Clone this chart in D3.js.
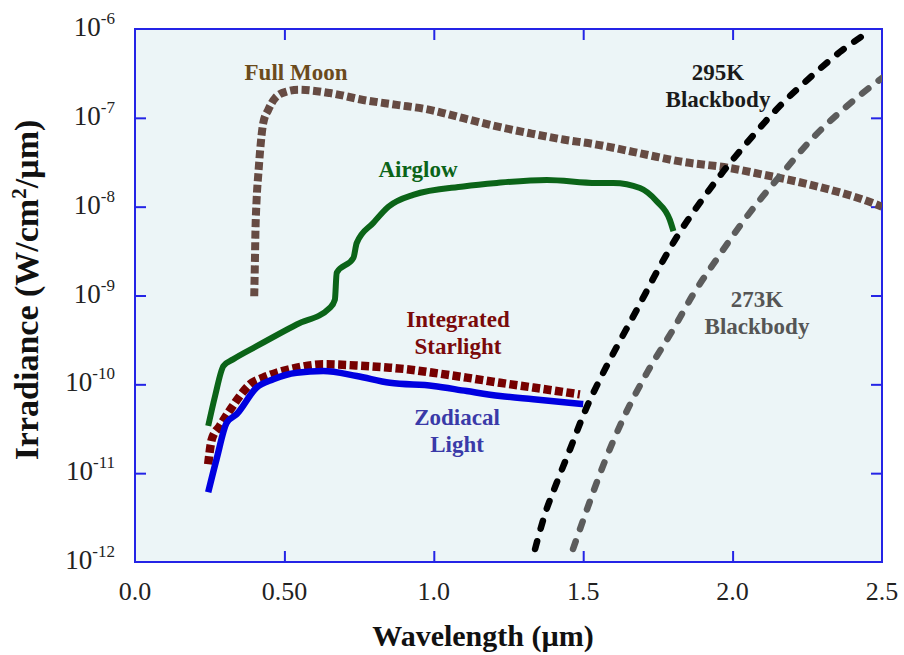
<!DOCTYPE html>
<html>
<head>
<meta charset="utf-8">
<script src="https://cdn.jsdelivr.net/npm/d3@7"></script>
<style>
  body { margin: 0; background: #fff; }
  svg { display: block; font-family: "Liberation Serif", "Times New Roman", serif; }
</style>
</head>
<body>
<svg width="904" height="655"></svg>
<script>
// wavelength (um) / irradiance (W/cm^2/um)
const moonWl  = [0.399, 0.401, 0.403, 0.407, 0.413, 0.418, 0.429, 0.446, 0.469, 0.508, 0.547, 0.653, 0.764, 0.876, 0.987, 1.099, 1.211, 1.322, 1.433, 1.545, 1.601, 1.713, 1.824, 1.991, 2.103, 2.214, 2.326, 2.437, 2.5];
const moonIrr = [9.8e-10, 2.1e-9, 5.1e-9, 1.2e-8, 2.4e-8, 4.0e-8, 8.7e-8, 1.23e-7, 1.67e-7, 1.98e-7, 2.07e-7, 1.9e-7, 1.59e-7, 1.4e-7, 1.23e-7, 9.9e-8, 8.0e-8, 6.7e-8, 5.7e-8, 5.0e-8, 4.6e-8, 3.84e-8, 3.23e-8, 2.72e-8, 2.29e-8, 1.92e-8, 1.55e-8, 1.2e-8, 1.0e-8];

const airglowWl  = [0.245, 0.268, 0.296, 0.328, 0.407, 0.541, 0.653, 0.669, 0.675, 0.731, 0.742, 0.798, 0.848, 0.931, 1.099, 1.211, 1.378, 1.545, 1.601, 1.690, 1.746, 1.790, 1.802];
const airglowIrr = [3.4e-11, 7.4e-11, 1.61e-10, 1.91e-10, 2.69e-10, 4.72e-10, 7.3e-10, 9.0e-10, 1.8e-9, 2.65e-9, 3.9e-9, 6.6e-9, 1.0e-8, 1.36e-8, 1.69e-8, 1.85e-8, 2.0e-8, 1.85e-8, 1.85e-8, 1.62e-8, 1.15e-8, 7.1e-9, 5.3e-9];

const starWl  = [0.245, 0.257, 0.284, 0.324, 0.351, 0.385, 0.429, 0.474, 0.541, 0.630, 0.742, 0.853, 0.909, 0.998, 1.110, 1.222, 1.333, 1.489];
const starIrr = [1.26e-11, 2.4e-11, 3.4e-11, 5.5e-11, 7.4e-11, 1.0e-10, 1.19e-10, 1.35e-10, 1.54e-10, 1.68e-10, 1.63e-10, 1.54e-10, 1.48e-10, 1.35e-10, 1.19e-10, 1.04e-10, 9.2e-11, 7.7e-11];

const zodiWl  = [0.245, 0.273, 0.307, 0.340, 0.407, 0.463, 0.541, 0.630, 0.742, 0.853, 0.998, 1.110, 1.222, 1.333, 1.500];
const zodiIrr = [6.1e-12, 1.44e-11, 3.7e-11, 4.6e-11, 9.2e-11, 1.14e-10, 1.35e-10, 1.41e-10, 1.24e-10, 1.04e-10, 9.6e-11, 8.4e-11, 7.4e-11, 6.8e-11, 6.0e-11];

const bb295Wl  = [1.339, 1.372, 1.412, 1.456, 1.506, 1.556, 1.613, 1.680, 1.747, 1.814, 1.891, 1.968, 2.048, 2.158, 2.269, 2.359, 2.433];
const bb295Irr = [1.4e-12, 3.46e-12, 7.9e-12, 1.86e-11, 4.98e-11, 1.14e-10, 2.67e-10, 6.97e-10, 1.86e-9, 4.6e-9, 1.11e-8, 2.47e-8, 5.24e-8, 1.36e-7, 3.04e-7, 5.5e-7, 8.3e-7];

const bb273Wl  = [1.466, 1.513, 1.566, 1.633, 1.714, 1.801, 1.868, 1.948, 2.035, 2.092, 2.159, 2.269, 2.383, 2.5];
const bb273Irr = [1.4e-12, 3.94e-12, 1.2e-11, 4.05e-11, 1.36e-10, 4.15e-10, 1.03e-9, 2.6e-9, 6.8e-9, 1.2e-8, 2.23e-8, 5.96e-8, 1.36e-7, 2.81e-7];

const xTicks = [0, 0.5, 1.0, 1.5, 2.0, 2.5];
const xTickLabels = ['0.0', '0.50', '1.0', '1.5', '2.0', '2.5'];
const yTicks = [1e-12, 1e-11, 1e-10, 1e-9, 1e-8, 1e-7, 1e-6];
const yTickExps = ['-12', '-11', '-10', '-9', '-8', '-7', '-6'];

const plotL = 135, plotR = 882, plotT = 29, plotB = 562;
const blue = '#2424e6';

const svg = d3.select('svg');
const x = d3.scaleLinear().domain([0, 2.5]).range([plotL, plotR]);
const y = d3.scaleLog().domain([1e-12, 1e-6]).range([plotB, plotT]);

svg.append('defs').append('clipPath').attr('id', 'plot')
  .append('rect').attr('x', plotL).attr('y', plotT)
  .attr('width', plotR - plotL).attr('height', plotB - plotT);

svg.append('rect')
  .attr('x', plotL).attr('y', plotT)
  .attr('width', plotR - plotL).attr('height', plotB - plotT)
  .attr('fill', '#ecf5f7');

// inward ticks on all four sides
const axisStyle = g => {
  g.select('.domain').remove();
  g.selectAll('line').attr('stroke', blue).attr('stroke-width', 2);
  g.selectAll('text').remove();
};
svg.append('g').attr('transform', `translate(0,${plotB})`)
  .call(d3.axisBottom(x).tickValues(xTicks.slice(1, -1)).tickSize(-11)).call(axisStyle);
svg.append('g').attr('transform', `translate(0,${plotT})`)
  .call(d3.axisTop(x).tickValues(xTicks.slice(1, -1)).tickSize(-11)).call(axisStyle);
svg.append('g').attr('transform', `translate(${plotL},0)`)
  .call(d3.axisLeft(y).tickValues(yTicks.slice(1, -1)).tickSize(-11)).call(axisStyle);
svg.append('g').attr('transform', `translate(${plotR},0)`)
  .call(d3.axisRight(y).tickValues(yTicks.slice(1, -1)).tickSize(-11)).call(axisStyle);

svg.append('rect')
  .attr('x', plotL).attr('y', plotT)
  .attr('width', plotR - plotL).attr('height', plotB - plotT)
  .attr('fill', 'none').attr('stroke', blue).attr('stroke-width', 2);

// tick labels
svg.append('g').selectAll('text')
  .data(xTicks)
  .join('text')
  .attr('x', d => x(d))
  .attr('y', 600)
  .attr('text-anchor', 'middle')
  .attr('font-size', 26)
  .attr('fill', '#222')
  .text((d, i) => xTickLabels[i]);

const yl = svg.append('g').selectAll('text')
  .data(yTicks)
  .join('text')
  .attr('x', 115)
  .attr('y', d => y(d) + 7)
  .attr('text-anchor', 'end')
  .attr('font-size', 27)
  .attr('fill', '#222');
yl.append('tspan').text('10');
yl.append('tspan').attr('dy', -12).attr('font-size', 17).text((d, i) => yTickExps[i]);

// axis titles
svg.append('text')
  .attr('x', 483).attr('y', 646)
  .attr('text-anchor', 'middle')
  .attr('font-size', 30).attr('font-weight', 'bold').attr('fill', '#111')
  .text('Wavelength (µm)');

const yt = svg.append('text')
  .attr('transform', 'translate(38,290) rotate(-90)')
  .attr('text-anchor', 'middle')
  .attr('font-size', 34).attr('font-weight', 'bold').attr('fill', '#111');
yt.append('tspan').text('Irradiance (W/cm');
yt.append('tspan').attr('dy', -12).attr('font-size', 21).text('2');
yt.append('tspan').attr('dy', 12).text('/µm)');

// curves
const line = d3.line()
  .x(d => x(d[0]))
  .y(d => y(d[1]))
  .curve(d3.curveMonotoneX);

const series = [
  { wl: moonWl, irr: moonIrr, color: '#664b43', width: 8, dash: '8,3.5', cap: 'butt' },
  { wl: airglowWl, irr: airglowIrr, color: '#0b6418', width: 6, dash: null, cap: 'butt' },
  { wl: starWl, irr: starIrr, color: '#760000', width: 8.5, dash: '8,3.5', cap: 'butt' },
  { wl: zodiWl, irr: zodiIrr, color: '#0000e0', width: 6.5, dash: null, cap: 'butt' },
  { wl: bb295Wl, irr: bb295Irr, color: '#000000', width: 6.5, dash: '8,13', cap: 'round' },
  { wl: bb273Wl, irr: bb273Irr, color: '#5c5c5c', width: 6.5, dash: '8,13', cap: 'round' }
];

const plot = svg.append('g').attr('clip-path', 'url(#plot)');
series.forEach(s => {
  plot.append('path')
    .datum(s.wl.map((w, i) => [w, s.irr[i]]))
    .attr('d', line)
    .attr('fill', 'none')
    .attr('stroke', s.color)
    .attr('stroke-width', s.width)
    .attr('stroke-linecap', s.cap)
    .attr('stroke-dasharray', s.dash);
});

// curve labels
const labels = [
  { lines: ['Full Moon'], x: 296, y: 80, color: '#6b4b1c' },
  { lines: ['Airglow'], x: 418, y: 177, color: '#0b6418' },
  { lines: ['Integrated', 'Starlight'], x: 458, y: 327, color: '#7a0a0a' },
  { lines: ['Zodiacal', 'Light'], x: 457, y: 425, color: '#3a3aa8' },
  { lines: ['295K', 'Blackbody'], x: 718, y: 80, color: '#1a1a1a' },
  { lines: ['273K', 'Blackbody'], x: 757, y: 307, color: '#555555' }
];
labels.forEach(l => {
  const t = svg.append('text')
    .attr('text-anchor', 'middle')
    .attr('font-size', 23).attr('font-weight', 'bold')
    .attr('fill', l.color);
  l.lines.forEach((s, i) => {
    t.append('tspan').attr('x', l.x).attr('y', l.y + i * 27).text(s);
  });
});
</script>
</body>
</html>
